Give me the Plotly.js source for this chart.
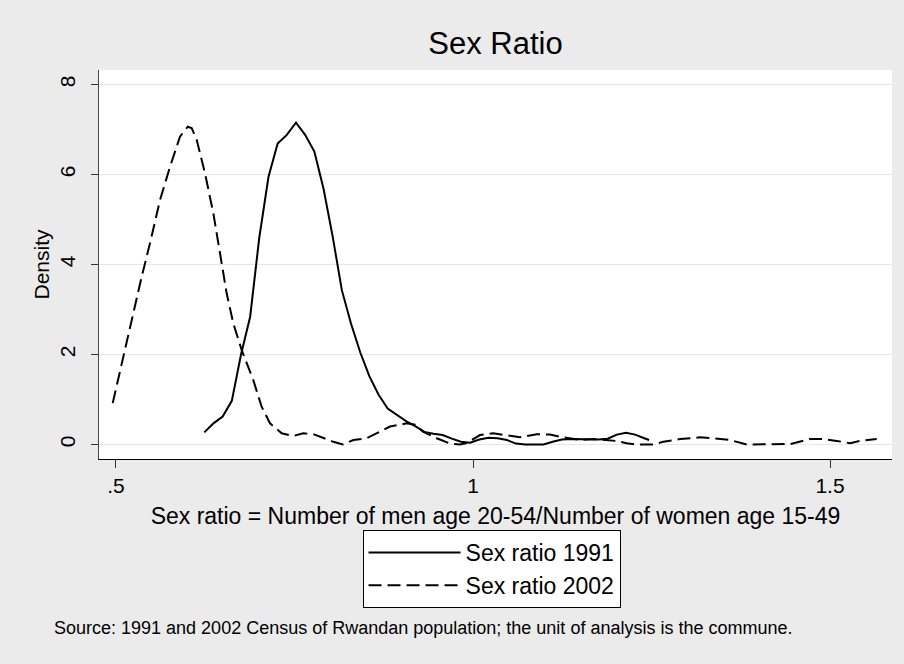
<!DOCTYPE html>
<html>
<head>
<meta charset="utf-8">
<script src="https://cdn.plot.ly/plotly-3.0.1.min.js"></script>
<style>html,body{margin:0;padding:0;background:#EBEBEB;}#chart{width:904px;height:664px;}</style>
</head>
<body>
<div id="chart"></div>
<script>
// Sex ratio 1991 (kernel density)
const x1991 = [0.6237,0.6365,0.6494,0.6622,0.6751,0.6879,0.7007,0.7136,0.7264,0.7392,0.7521,0.7649,0.7778,0.7906,0.8035,0.8163,0.8291,0.8420,0.8548,0.8676,0.8805,0.8933,0.9062,0.9190,0.9318,0.9447,0.9575,0.9703,0.9832,0.9960,1.0088,1.0217,1.0345,1.0474,1.0602,1.0730,1.0859,1.0987,1.1116,1.1244,1.1373,1.1501,1.1629,1.1758,1.1886,1.2014,1.2143,1.2271,1.2399,1.2466];
const y1991 = [0.27,0.47,0.62,0.97,2.00,2.84,4.60,5.95,6.69,6.88,7.15,6.88,6.51,5.69,4.62,3.43,2.69,2.05,1.52,1.11,0.80,0.66,0.52,0.41,0.28,0.24,0.21,0.13,0.06,0.04,0.11,0.15,0.14,0.10,0.02,0.00,0.00,0.00,0.06,0.11,0.12,0.12,0.11,0.11,0.13,0.22,0.26,0.22,0.14,0.10];
// Sex ratio 2002 (kernel density)
const x2002 = [0.4954,0.5102,0.5243,0.5360,0.5476,0.5616,0.5756,0.5896,0.6004,0.6060,0.6130,0.6246,0.6363,0.6457,0.6550,0.6643,0.6760,0.6923,0.7040,0.7157,0.7320,0.7483,0.7623,0.7763,0.7903,0.8044,0.8175,0.8324,0.8511,0.8697,0.8838,0.9071,0.9188,0.9304,0.9492,0.9678,0.9818,0.9912,1.0098,1.0284,1.0472,1.0658,1.0892,1.1078,1.1218,1.1499,1.1685,1.1872,1.2000,1.2152,1.2292,1.2525,1.2665,1.2899,1.3179,1.3366,1.3599,1.3833,1.4113,1.4440,1.4720,1.4906,1.5094,1.5280,1.5420,1.5654];
const y2002 = [0.92,1.95,2.92,3.73,4.47,5.43,6.17,6.84,7.06,7.03,6.77,6.03,5.14,4.25,3.36,2.69,2.10,1.43,0.84,0.47,0.25,0.19,0.25,0.23,0.14,0.06,0.00,0.10,0.14,0.28,0.40,0.47,0.44,0.28,0.14,0.02,0.00,0.03,0.21,0.25,0.21,0.16,0.23,0.22,0.17,0.10,0.12,0.10,0.08,0.03,0.00,0.00,0.06,0.12,0.16,0.14,0.10,0.00,0.00,0.01,0.12,0.12,0.08,0.03,0.08,0.12];

const seriesNames = ["Sex ratio 1991", "Sex ratio 2002"];
const xTickVals = [0.5, 1, 1.5];
const xTickText = [".5", "1", "1.5"];
const yTickVals = [0, 2, 4, 6, 8];
const yTickText = ["0", "2", "4", "6", "8"];

const FONT = "Liberation Sans, Arial, sans-serif";

const traces = [
  {x: x1991, y: y1991, type: "scatter", mode: "lines", name: seriesNames[0],
   line: {color: "#000000", width: 2, dash: "solid"}},
  {x: x2002, y: y2002, type: "scatter", mode: "lines", name: seriesNames[1],
   line: {color: "#000000", width: 2, dash: "13px,6px"}}
];

const layout = {
  width: 904, height: 664,
  paper_bgcolor: "#EBEBEB",
  plot_bgcolor: "#FFFFFF",
  margin: {l: 99, r: 12, t: 70, b: 205, pad: 0},
  font: {family: FONT, color: "#000000", size: 20},
  title: {text: "Sex Ratio", font: {family: FONT, size: 31, color: "#000"},
          x: 0.5, xref: "paper", xanchor: "center", y: 1 - 43/664, yref: "container", yanchor: "middle"},
  xaxis: {
    range: [0.4762, 1.5868], showgrid: false, zeroline: false,
    showline: true, linecolor: "#000000", linewidth: 1,
    ticks: "outside", ticklen: 8, tickcolor: "#333333", tickwidth: 1,
    tickvals: xTickVals, ticktext: xTickText,
    tickfont: {family: FONT, size: 21},
    title: {text: "Sex ratio = Number of men age 20-54/Number of women age 15-49",
            font: {family: FONT, size: 23}, standoff: 11}
  },
  yaxis: {
    range: [-0.322, 8.322], showgrid: true, gridcolor: "#E6E6E6", gridwidth: 1.5,
    zeroline: false, showline: true, linecolor: "#444444", linewidth: 1,
    ticks: "outside", ticklen: 7, tickcolor: "#333333", tickwidth: 1,
    tickvals: yTickVals, ticktext: yTickText, tickangle: -90,
    ticklabelstandoff: 8,
    tickfont: {family: FONT, size: 21},
    title: {text: "Density", font: {family: FONT, size: 21}, standoff: 0}
  },
  showlegend: true,
  legend: {
    orientation: "v", x: 0.495, xanchor: "center", xref: "paper",
    y: -(530-459)/389, yanchor: "top", yref: "paper",
    bgcolor: "#FFFFFF", bordercolor: "#000000", borderwidth: 1,
    font: {family: FONT, size: 23}, itemwidth: 92, tracegroupgap: 0
  },
  annotations: [{
    text: "Source: 1991 and 2002 Census of Rwandan population; the unit of analysis is the commune.",
    xref: "paper", yref: "paper", x: (52-99)/793, y: -(628-459)/389,
    xanchor: "left", yanchor: "middle", showarrow: false,
    font: {family: FONT, size: 18, color: "#000"}
  }]
};

Plotly.newPlot("chart", traces, layout, {displayModeBar: false, staticPlot: true});
</script>
</body>
</html>
